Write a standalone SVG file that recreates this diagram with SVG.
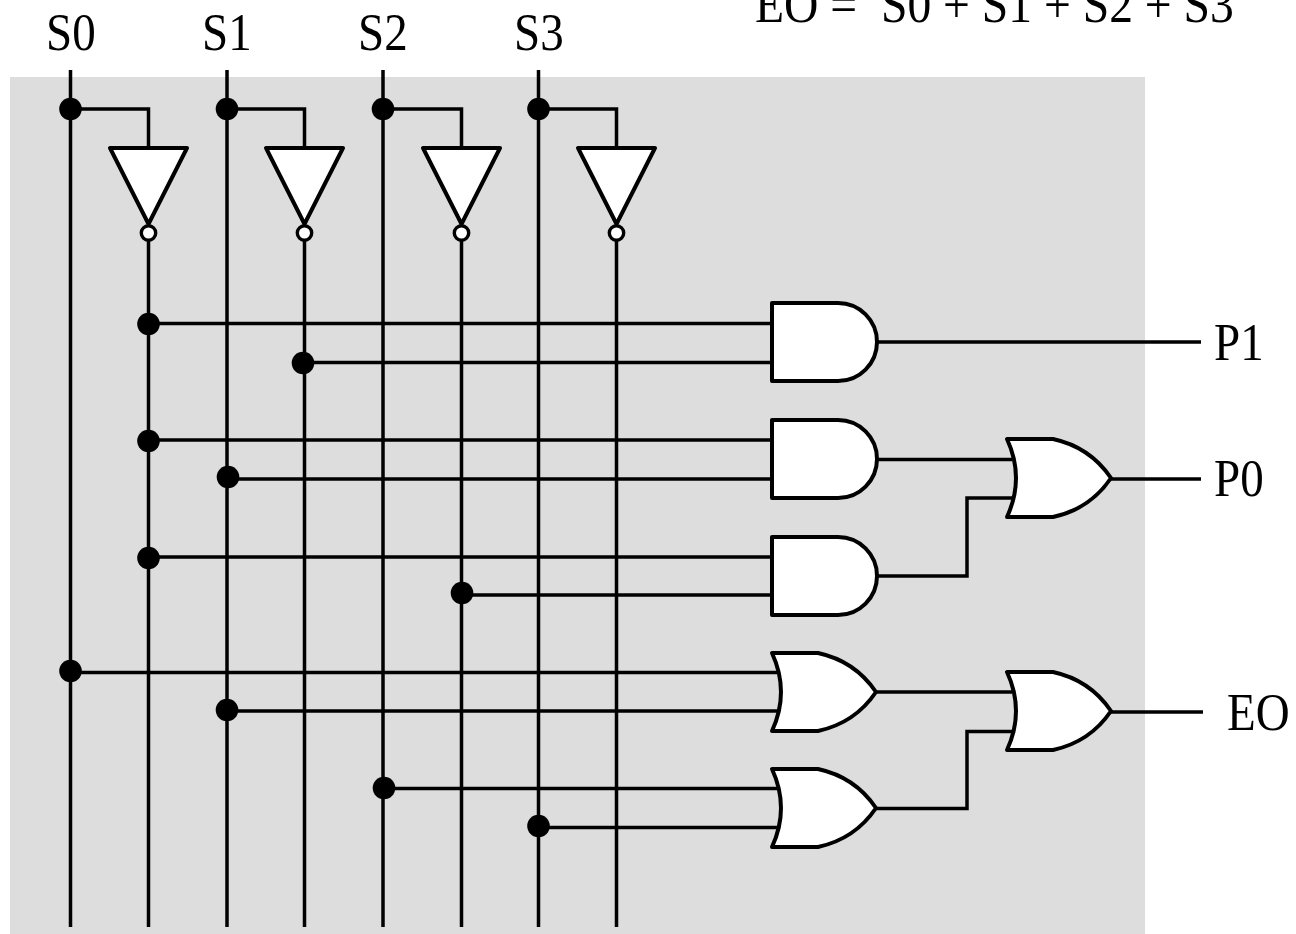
<svg xmlns="http://www.w3.org/2000/svg" width="1296" height="934" viewBox="0 0 1296 934">
<style>
.w{fill:none;stroke:#000;stroke-width:3.500;stroke-linejoin:miter;stroke-linecap:butt}
.g{fill:#fff;stroke:#000;stroke-width:4;stroke-linejoin:round}
.d{fill:#000}
.b{fill:#fff;stroke:#000;stroke-width:3.400}
text{font-family:"Liberation Serif",serif;font-size:47px;fill:#000}
.f{font-size:47.600px}
</style>
<defs>
<path id="and" d="M772 303H838A39 39 0 0 1 838 381H772Z"/>
<path id="or" d="M772 653H818Q855 661 876 692Q855 723 818 731H772Q790 692 772 653Z"/>
<path id="inv" d="M110 148H187L148.500 224Z"/>
</defs>
<rect x="10" y="77" width="1135" height="857" fill="#dddddd"/>
<g id="connectors" class="w">
<path d="M70.500 70V927M227 70V927M383 70V927M538.500 70V927"/>
<path d="M70.500 109H148.500V148M227 109H304.500V148M383 109H461.500V148M538.500 109H616.500V148"/>
<path d="M148.500 240V927M304.500 240V927M461.500 240V927M616.500 240V927"/>
<path d="M148.500 323.500H772M304.500 362.500H772M877 342H1201"/>
<path d="M148.500 440H772M227 479H772M148.500 557H772M461.500 595H772"/>
<path d="M877 459.500H1012M877 576H967V498H1012M1110 479H1201"/>
<path d="M70.500 672.500H782M227 711H782M383 788.500H782M538.500 827.500H782"/>
<path d="M876 692H1012M876 808.500H967V731.500H1012M1110 712H1203"/>
</g>
<g id="dots" class="d">
<circle cx="70.500" cy="109" r="11.300"/><circle cx="227" cy="109" r="11.300"/><circle cx="383" cy="109" r="11.300"/><circle cx="538.500" cy="109" r="11.300"/>
<circle cx="148.500" cy="324" r="11.300"/><circle cx="303" cy="363" r="11.300"/><circle cx="148.500" cy="441" r="11.300"/><circle cx="228" cy="477" r="11.300"/>
<circle cx="148.500" cy="558" r="11.300"/><circle cx="462" cy="593" r="11.300"/><circle cx="70.500" cy="671" r="11.300"/><circle cx="227" cy="710" r="11.300"/>
<circle cx="384" cy="788" r="11.300"/><circle cx="538.500" cy="826" r="11.300"/>
</g>
<g id="inv0"><use href="#inv" class="g"/><circle class="b" cx="148.500" cy="233" r="7.200"/></g>
<g id="inv1"><use href="#inv" class="g" x="156"/><circle class="b" cx="304.500" cy="233" r="7.200"/></g>
<g id="inv2"><use href="#inv" class="g" x="313"/><circle class="b" cx="461.500" cy="233" r="7.200"/></g>
<g id="inv3"><use href="#inv" class="g" x="468"/><circle class="b" cx="616.500" cy="233" r="7.200"/></g>
<g id="and1"><use href="#and" class="g"/></g>
<g id="and2"><use href="#and" class="g" y="117"/></g>
<g id="and3"><use href="#and" class="g" y="234"/></g>
<g id="or1"><use href="#or" class="g" x="235" y="-214"/></g>
<g id="or2"><use href="#or" class="g"/></g>
<g id="or3"><use href="#or" class="g" y="116"/></g>
<g id="or4"><use href="#or" class="g" x="235" y="19"/></g>
<g id="labels">
<text transform="translate(46 49.500) scale(1 1.130)">S0</text>
<text transform="translate(202 49.500) scale(1 1.130)">S1</text>
<text transform="translate(358 49.500) scale(1 1.130)">S2</text>
<text transform="translate(514 49.500) scale(1 1.130)">S3</text>
<text transform="translate(1214 359.500) scale(1 1.130)">P1</text>
<text transform="translate(1214 495.500) scale(1 1.130)">P0</text>
<text transform="translate(1227 730) scale(1 1.130)">EO</text>
<text class="f" transform="translate(755 22) scale(1 1.130)" xml:space="preserve">EO =  S0 + S1 + S2 + S3</text>
</g>
</svg>
